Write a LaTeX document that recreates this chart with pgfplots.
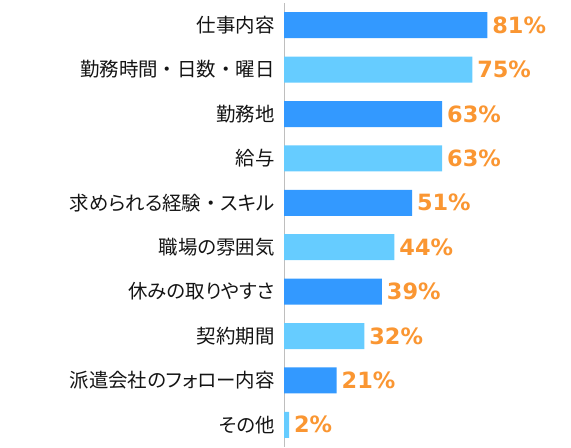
\documentclass[border=0pt]{standalone}
\usepackage{pgfplots}
\pgfplotsset{compat=1.18}
\usepackage{fontspec}
\setmainfont[RawFeature=+palt]{Noto Sans CJK JP}
\newfontfamily\jpfw{Noto Sans CJK JP}
\newcommand\dt{{\jpfw ・}}
\newfontfamily\numfont{DejaVu Sans}
\definecolor{barA}{RGB}{51,153,255}
\definecolor{barB}{RGB}{102,204,255}
\definecolor{lbl}{RGB}{250,150,50}
\begin{document}
\begin{tikzpicture}
\useasboundingbox (0,0) rectangle (571bp,448bp);
\begin{axis}[
 at={(284bp,1bp)}, anchor=south west,
 scale only axis, width=251bp, height=444bp,
 xmin=0, xmax=100, ymin=-0.5, ymax=9.5, y dir=reverse,
 xbar, bar width=26bp, bar shift=0pt,
 axis y line*=left, axis x line=none,
 y axis line style={draw={rgb,255:red,190;green,190;blue,190}, line width=0.8bp},
 ytick={0,...,9},
 yticklabels={仕事内容,勤務時間\dt 日数\dt 曜日,勤務地,給与,求められる経験\dt スキル,職場の雰囲気,休みの取りやすさ,契約期間,派遣会社のフォロー内容,その他},
 major tick length=0pt,
 yticklabel style={font=\fontsize{19.5}{22}\selectfont, text={rgb,255:red,20;green,20;blue,20}, xshift=-6bp},
 nodes near coords={\pgfmathprintnumber[assume math mode=true]{\pgfplotspointmeta}\%},
 nodes near coords style={font=\numfont\bfseries\fontsize{22.5}{24}\selectfont, text=lbl, anchor=west, xshift=1.5bp},
 clip=false
]
\addplot[fill=barA, draw=none] coordinates {(81,0) (63,2) (51,4) (39,6) (21,8)};
\addplot[fill=barB, draw=none] coordinates {(75,1) (63,3) (44,5) (32,7) (2,9)};
\end{axis}
\end{tikzpicture}
\end{document}
